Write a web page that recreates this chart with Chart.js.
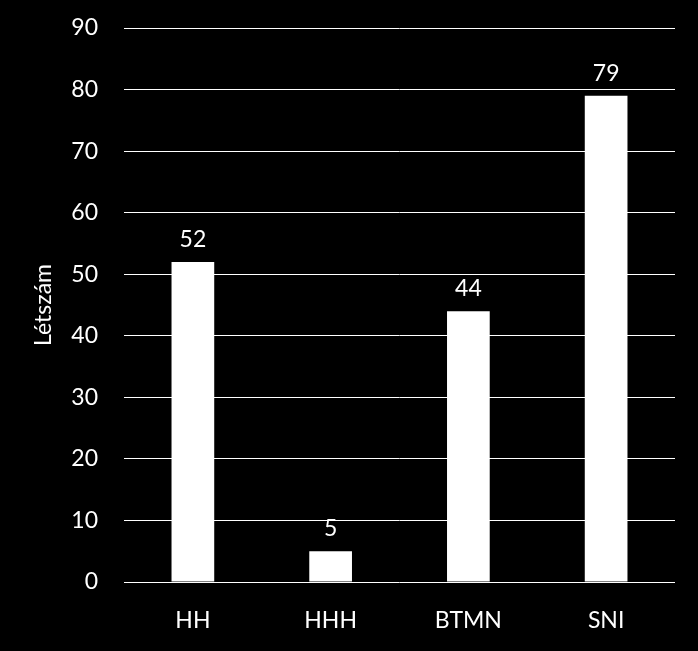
<!DOCTYPE html>
<html>
<head>
<meta charset="utf-8">
<script src="https://cdn.jsdelivr.net/npm/chart.js@4"></script>
<style>
  html, body { margin: 0; padding: 0; background: #000; }
  #wrap { width: 698px; height: 651px; }
</style>
</head>
<body>
<div id="wrap"><canvas id="chart" width="698" height="651"></canvas></div>
<script>
"use strict";
// ---------------- data ----------------
const categories = ["HH", "HHH", "BTMN", "SNI"];
const counts = [52, 5, 44, 79];
const yTicks = [0, 10, 20, 30, 40, 50, 60, 70, 80, 90];
const yTitle = "Létszám";

const FONT = "Lato, Carlito, 'Liberation Sans', sans-serif";

// labels above the bars
const barLabels = {
  id: "barLabels",
  afterDatasetsDraw(chart) {
    let ctx = chart.ctx;
    let meta = chart.getDatasetMeta(0);
    ctx.save();
    ctx.fillStyle = "#fff";
    ctx.font = "23px " + FONT;
    ctx.textAlign = "center";
    ctx.textBaseline = "alphabetic";
    meta.data.forEach((bar, i) => {
      ctx.fillText(String(counts[i]), bar.x, bar.y - 15);
    });
    ctx.restore();
  }
};

new Chart(document.getElementById("chart"), {
  type: "bar",
  data: {
    labels: categories,
    datasets: [{
      data: counts,
      backgroundColor: "#fff",
      borderWidth: 0,
      categoryPercentage: 1,
      barPercentage: 0.31
    }]
  },
  options: {
    responsive: false,
    animation: false,
    layout: { padding: { top: 0, right: 23, left: 0, bottom: 0 } },
    plugins: { legend: { display: false }, tooltip: { enabled: false } },
    scales: {
      x: {
        grid: { display: false, drawTicks: false },
        border: { display: false },
        ticks: { color: "#fff", font: { family: FONT, size: 23 }, padding: 25 },
        afterFit(scale) { scale.height = 69; }
      },
      y: {
        min: 0,
        max: 90,
        afterBuildTicks(scale) { scale.ticks = yTicks.map(v => ({ value: v })); },
        grid: { color: "#fff", lineWidth: 1, drawTicks: false },
        border: { display: false },
        ticks: { color: "#fff", font: { family: FONT, size: 23 }, padding: 26 },
        title: {
          display: true,
          text: yTitle,
          color: "#fff",
          font: { family: FONT, size: 23 },
          padding: { top: 30, bottom: 0 }
        },
        afterFit(scale) {
          scale.width = 124;
          scale.paddingTop = 28;
          scale.paddingBottom = 0;
        }
      }
    }
  },
  plugins: [barLabels]
});
</script>
</body>
</html>
